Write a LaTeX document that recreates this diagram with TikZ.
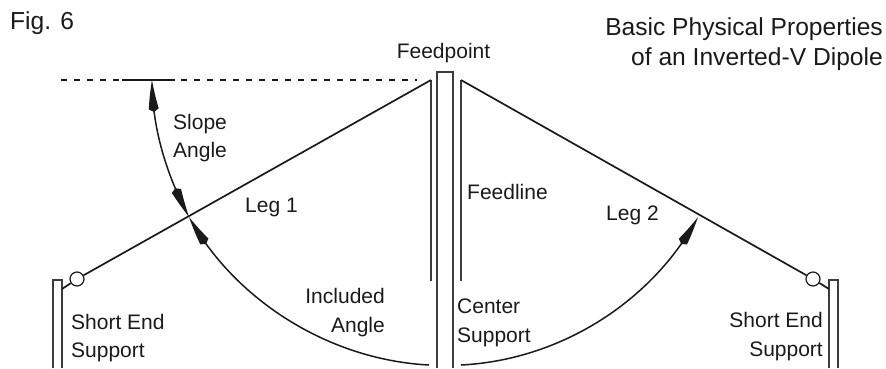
\documentclass[tikz,border=0pt]{standalone}
\usepackage{fontspec}
\setmainfont{Liberation Sans}
\usetikzlibrary{arrows.meta,bending}
\definecolor{ink}{HTML}{1A1A1A}
\tikzset{
  lab/.style={text=ink,inner sep=0pt,font=\fontsize{21}{21}\selectfont},
  head/.style={text=ink,inner sep=0pt,font=\fontsize{24.6}{24.6}\selectfont},
  wire/.style={draw=ink,line width=1.7pt},
  polesty/.style={draw=ink!85,line width=2.2pt},
  dashsty/.style={draw=ink,line width=1.5pt,dash pattern=on 6pt off 7pt},
  ins/.style={circle,draw=ink,line width=1.2pt,fill=white,minimum size=14pt,inner sep=0pt},
  swing/.style={draw=ink,line width=1.5pt},
  wedge/.tip={Kite[length=32pt,width=10pt,inset=3pt,bend]}
}
\begin{document}
\begin{tikzpicture}[x=1pt,y=-1pt]
\useasboundingbox (0,0) rectangle (886,368);
% supports
\draw[polesty] (53,368) -- (53,280) -- (62,280) -- (62,368);
\draw[polesty] (829,368) -- (829,280) -- (838,280) -- (838,368);
\draw[polesty] (437,368) -- (437,72) -- (453,72) -- (453,368);
% feedline
\draw[polesty] (431,281) -- (431,80);
\draw[polesty] (461,281) -- (461,80);
% named points
\node[ins] (insL) at (77,279) {};
\node[ins] (insR) at (813,279) {};
\coordinate (poleL) at (62,289);
\coordinate (poleR) at (829,289);
\coordinate (feedL) at (431,80);
\coordinate (feedR) at (461,80);
\coordinate (crossL) at (189,217);
\coordinate (crossR) at (698,217);
\coordinate (slopeTop) at (152,80);
\coordinate (botL) at (429,365);
\coordinate (botR) at (461,365);
% legs
\draw[wire] (poleL) -- (insL);
\draw[wire] (insL) -- (feedL);
\draw[wire] (feedR) -- (insR);
\draw[wire] (insR) -- (poleR);
% horizontal reference
\draw[dashsty] (61,80) -- (122,80);
\draw[dashsty] (181,80) -- (417,80);
\draw[draw=ink,line width=2pt] (122,80) -- (175,80);
% angle arcs
\draw[swing,{wedge}-{wedge}] (slopeTop) .. controls (152,127) and (166,174) .. (crossL);
\draw[swing,{wedge}-] (crossL) .. controls (236,302) and (331,360) .. (botL);
\draw[swing,-{wedge}] (botR) .. controls (560,360) and (652,302) .. (crossR);
% labels
\node[head,anchor=base west] (fig) at (10,29) {Fig. 6};
\node[head,anchor=base east] (t1) at (883,35) {Basic Physical Properties};
\node[head,anchor=base east] (t2) at (883,65) {of an Inverted-V Dipole};
\node[lab,anchor=base] (fp) at (443.5,58) {Feedpoint};
\node[lab,anchor=base west] (sl) at (173,129) {Slope};
\node[lab,anchor=base west] (sa) at (173,157) {Angle};
\node[lab,anchor=base west] (l1) at (245,212) {Leg 1};
\node[lab,anchor=base west] (fl) at (467,199) {Feedline};
\node[lab,anchor=base west] (l2) at (606,220) {Leg 2};
\node[lab,anchor=base east] (inc) at (385,303) {Included};
\node[lab,anchor=base east] (ia) at (385,332) {Angle};
\node[lab,anchor=base west] (cs) at (457,313) {Center};
\node[lab,anchor=base west] (cs2) at (457,342) {Support};
\node[lab,anchor=base west] (sl1) at (71,329) {Short End};
\node[lab,anchor=base west] (sl2) at (71,357) {Support};
\node[lab,anchor=base east] (sr1) at (823,327) {Short End};
\node[lab,anchor=base east] (sr2) at (823,356) {Support};
\end{tikzpicture}
\end{document}
